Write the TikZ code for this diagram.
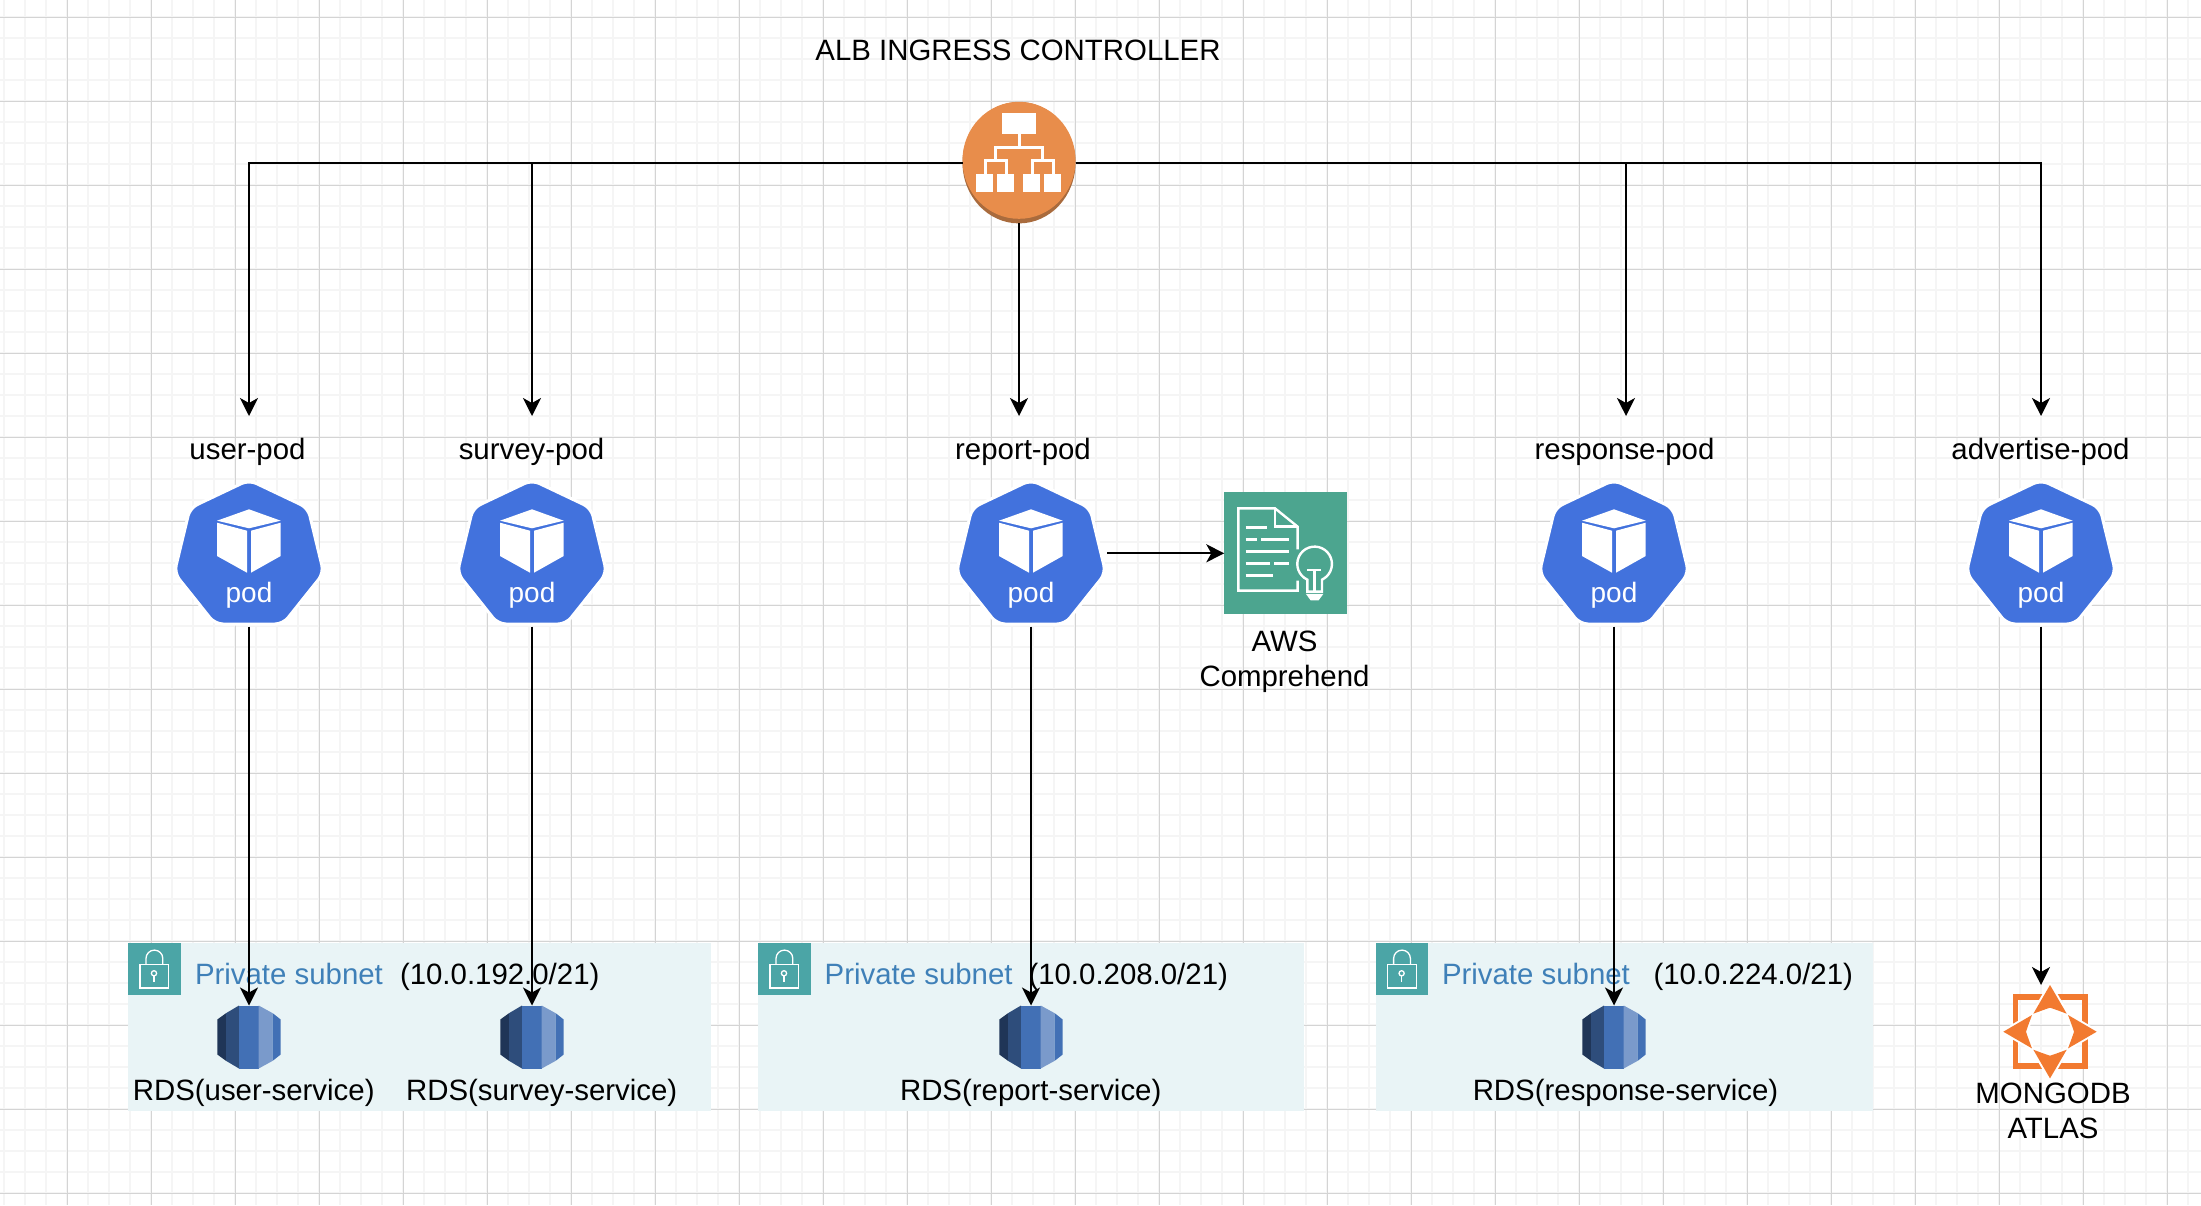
\documentclass[tikz,border=0pt]{standalone}
\usepackage{fontspec}
\setmainfont{Liberation Sans}
\usetikzlibrary{arrows.meta,shapes.geometric}
\definecolor{gridmajor}{HTML}{D4D4D4}
\definecolor{gridminor}{HTML}{F5F5F5}
\definecolor{podblue}{HTML}{4272DD}
\definecolor{albor}{HTML}{E88D4B}
\definecolor{albdk}{HTML}{A96B3D}
\definecolor{compgreen}{HTML}{4CA58F}
\definecolor{subnetbg}{HTML}{E9F4F6}
\definecolor{subnetteal}{HTML}{4BA5A6}
\definecolor{subnettext}{HTML}{3F80B8}
\definecolor{mongoor}{HTML}{F27A30}
\definecolor{rdsA}{HTML}{1F3557}
\definecolor{rdsB}{HTML}{2E4D7B}
\definecolor{rdsC}{HTML}{4270B5}
\definecolor{rdsD}{HTML}{7A9ACB}
\tikzset{
  lbl/.style={font=\fontsize{29.4}{35}\selectfont,inner sep=0pt,outer sep=0pt,text=black},
  poplbl/.style={lbl,anchor=base,text height=43pt,text depth=7pt},
  multilbl/.style={lbl,align=center,anchor=north},
  subnettitle/.style={lbl,anchor=base west,text=subnettext},
  cidr/.style={lbl,anchor=base west},
  rdslbl/.style={lbl,anchor=base},
  edge/.style={draw=black,line width=1.9pt,-{Stealth[length=18pt,width=18pt,inset=5pt]}},
  podbox/.style={inner sep=0pt,outer sep=0pt,minimum width=152pt,minimum height=146.8pt},
  rdsbox/.style={inner sep=0pt,outer sep=0pt,minimum width=63.4pt,minimum height=63pt},
  subnetbox/.style={fill=subnetbg,draw=none,inner sep=0pt,outer sep=0pt,anchor=north west},
  iconline/.style={draw=white,line width=2.4pt},
}
\newcommand{\podicon}[1]{%
  \begin{scope}[shift={(#1,0)}]
    \filldraw[fill=podblue,draw=white,line width=3pt,rounded corners=8pt]
      (0,480) -- (59,508) -- (74.7,573) -- (34,624) -- (-34,624) -- (-74.7,573) -- (-59,508) -- cycle;
    \fill[white] (0,509.3) -- (31.7,520.7) -- (0,528.3) -- (-32,520.7) -- cycle;
    \fill[white] (-32,522.7) -- (-2,530.7) -- (-2,572.7) -- (-32,556) -- cycle;
    \fill[white] (2,530.7) -- (31.7,522.7) -- (31.7,556) -- (2,572.7) -- cycle;
    \node[font=\fontsize{28}{34}\selectfont,text=white,inner sep=0pt,anchor=base] (#1lab) at (0,602) {pod};
  \end{scope}}
\newcommand{\rdsicon}[1]{%
  \begin{scope}[shift={(#1,1037)}]
    \fill[rdsA] (-31.7,-17.5) -- (-23,-23.8) -- (-23,23.8) -- (-31.7,17.5) -- cycle;
    \fill[rdsB] (-23,-23.8) -- (-10,-31.5) -- (-10,31.5) -- (-23,23.8) -- cycle;
    \fill[rdsC] (-10,-31.5) rectangle (9.7,31.5);
    \fill[rdsD] (9.7,-31.5) -- (23.7,-23.8) -- (23.7,23.8) -- (9.7,31.5) -- cycle;
    \fill[rdsC] (23.7,-23.8) -- (31.7,-17.5) -- (31.7,17.5) -- (23.7,23.8) -- cycle;
  \end{scope}}
\newcommand{\lockicon}[1]{%
  \begin{scope}[shift={(#1,942.7)}]
    \fill[subnetteal] (0,0) rectangle (52.7,52.4);
    \draw[draw=white,line width=1.3pt] (12,21.5) rectangle (40.7,45.3);
    \draw[draw=white,line width=1.3pt] (18,21.5) -- (18,15.8) arc[start angle=180,end angle=360,radius=8.4] -- (34.8,21.5);
    \draw[draw=white,line width=1.3pt] (26,30.6) circle (2.6);
    \draw[draw=white,line width=1.3pt] (26,33.2) -- (26,39.6);
  \end{scope}}
\begin{document}
\begin{tikzpicture}[x=1pt,y=-1pt]
\useasboundingbox (0,0) rectangle (2201,1205);
\begin{scope}
  \clip (0,0) rectangle (2201,1205);
  \foreach \i in {0,...,105} \draw[gridminor,line width=2pt] (4+21*\i,0) -- (4+21*\i,1205);
  \foreach \i in {0,...,58} \draw[gridminor,line width=2pt] (0,-3.7+21*\i) -- (2201,-3.7+21*\i);
  \foreach \i in {0,...,26} \draw[gridmajor,line width=1.1pt] (67.5+84*\i,0) -- (67.5+84*\i,1205);
  \foreach \i in {0,...,14} \draw[gridmajor,line width=1.1pt] (0,17.5+84*\i) -- (2201,17.5+84*\i);
\end{scope}

% subnets
\node[subnetbox,minimum width=583pt,minimum height=168pt] (subnetA) at (128,942.7) {};
\node[subnetbox,minimum width=546pt,minimum height=168pt] (subnetB) at (758,942.7) {};
\node[subnetbox,minimum width=497pt,minimum height=168pt] (subnetC) at (1375.6,942.7) {};
\lockicon{128}\lockicon{758}\lockicon{1375.6}
\node[subnettitle] (titleA) at (195,984) {Private subnet};
\node[subnettitle] (titleB) at (824.7,984) {Private subnet};
\node[subnettitle] (titleC) at (1442,984) {Private subnet};
\node[cidr] (cidrA) at (400,984) {(10.0.192.0/21)};
\node[cidr] (cidrB) at (1028.5,984) {(10.0.208.0/21)};
\node[cidr] (cidrC) at (1653.5,984) {(10.0.224.0/21)};

% title and ALB
\node[lbl,anchor=base] (albtitle) at (1018,60) {ALB INGRESS CONTROLLER};
\node[ellipse,fill=albdk,inner sep=0pt,outer sep=0pt,minimum width=113pt,minimum height=121.4pt] (alb) at (1019,162.7) {};
\fill[albor] (1019,160.3) ellipse[x radius=56.5,y radius=58.5];
\fill[white] (1002.3,113) rectangle (1035.7,134);
\draw[draw=white,line width=3pt] (1019,134) -- (1019,147) (995,160) -- (995,147) -- (1042.5,147) -- (1042.5,160);
\draw[draw=white,line width=3pt] (985,174.3) -- (985,160.8) -- (1006,160.8) -- (1006,174.3);
\draw[draw=white,line width=3pt] (1032.7,174.3) -- (1032.7,160.8) -- (1053.5,160.8) -- (1053.5,174.3);
\fill[white] (976.3,174.3) rectangle (993,192);
\fill[white] (997.3,174.3) rectangle (1014,192);
\fill[white] (1023.3,174.3) rectangle (1039.7,192);
\fill[white] (1044.3,174.3) rectangle (1061,192);

% pod labels
\node[poplbl] (userlbl) at (247.5,459) {user-pod};
\node[poplbl] (surveylbl) at (531.5,459) {survey-pod};
\node[poplbl] (reportlbl) at (1023,459) {report-pod};
\node[poplbl] (responselbl) at (1624.5,459) {response-pod};
\node[poplbl] (advertlbl) at (2040.5,459) {advertise-pod};

% pods
\podicon{249}\podicon{532}\podicon{1031}\podicon{1614}\podicon{2041}
\node[podbox] (userpod) at (249,553.3) {};
\node[podbox] (surveypod) at (532,553.3) {};
\node[podbox] (reportpod) at (1031,553.3) {};
\node[podbox] (responsepod) at (1614,553.3) {};
\node[podbox] (advertpod) at (2041,553.3) {};

% RDS
\rdsicon{249}\rdsicon{532}\rdsicon{1031}\rdsicon{1614}
\node[rdsbox] (rdsuser) at (249,1037) {};
\node[rdsbox] (rdssurvey) at (532,1037) {};
\node[rdsbox] (rdsreport) at (1031,1037) {};
\node[rdsbox] (rdsresponse) at (1614,1037) {};
\node[rdslbl] (rdsuserlbl) at (253.7,1100) {RDS(user-service)};
\node[rdslbl] (rdssurveylbl) at (541.7,1100) {RDS(survey-service)};
\node[rdslbl] (rdsreportlbl) at (1030.7,1100) {RDS(report-service)};
\node[rdslbl] (rdsresponselbl) at (1625.5,1100) {RDS(response-service)};

% Comprehend
\node[fill=compgreen,draw=none,inner sep=0pt,outer sep=0pt,minimum width=122.4pt,minimum height=122pt] (comprehend) at (1285.5,553.3) {};
\begin{scope}[shift={(930,460)},x=0.3333pt,y=-0.3333pt]
  \draw[iconline] (1103,268) -- (1103,200) -- (1035,145) -- (925,145) -- (925,392) -- (1103,392) -- (1103,362);
  \draw[iconline] (1035,145) -- (1035,200) -- (1103,200);
  \draw[iconline] (947,203) -- (1012,203) (947,239) -- (980,239) (993,239) -- (1078,239) (947,275) -- (1078,275) (947,310) -- (1020,310) (1033,310) -- (1078,310) (947,346) -- (1028,346);
  \draw[iconline] (1132,395) -- (1132,359) arc[start angle=115,end angle=425,radius=52] -- (1176,395) -- cycle;
  \draw[iconline] (1132,330) -- (1174,330) (1153,330) -- (1153,395);
  \fill[white] (1128,402) -- (1180,402) -- (1166,421) -- (1142,421) -- cycle;
\end{scope}
\node[multilbl] (complbl) at (1284.5,631) {AWS\\Comprehend};

% Mongo
\node[inner sep=0pt,outer sep=0pt,minimum width=93.4pt,minimum height=93.4pt] (mongo) at (2050,1031.7) {};
\begin{scope}[shift={(2050,1031.7)}]
  \draw[draw=mongoor,line width=5.6pt] (-34.7,-34.5) rectangle (34.7,34.5);
  \foreach \a in {0,90,180,270}
    \filldraw[rotate=\a,fill=mongoor,draw=white,line width=4pt,line join=round]
      (0,-46.7) -- (16.7,-18) .. controls (6,-22) .. (0,-24) .. controls (-6,-22) .. (-16.7,-18) -- cycle;
  \foreach \a in {0,90,180,270}
    \fill[rotate=\a,mongoor] (0,-46.7) -- (16.7,-18) .. controls (6,-22) .. (0,-24) .. controls (-6,-22) .. (-16.7,-18) -- cycle;
\end{scope}
\node[multilbl] (mongolbl) at (2053,1083) {MONGODB\\ATLAS};

% connectors
\draw[edge] (alb.west) -| ([xshift=1.5pt]userlbl.north);
\draw[edge] (alb.west) -| ([xshift=0.5pt]surveylbl.north);
\draw[edge] (alb.south) -- ([xshift=-4pt]reportlbl.north);
\draw[edge] (alb.east) -| ([xshift=1.5pt]responselbl.north);
\draw[edge] (alb.east) -| ([xshift=0.5pt]advertlbl.north);
\draw[edge] (userpod.south) -- (rdsuser.north);
\draw[edge] (surveypod.south) -- (rdssurvey.north);
\draw[edge] (reportpod.south) -- (rdsreport.north);
\draw[edge] (responsepod.south) -- (rdsresponse.north);
\draw[edge] (advertpod.south) -- ([xshift=-9pt]mongo.north);
\draw[edge] (reportpod.east) -- (comprehend.west);
\end{tikzpicture}
\end{document}
